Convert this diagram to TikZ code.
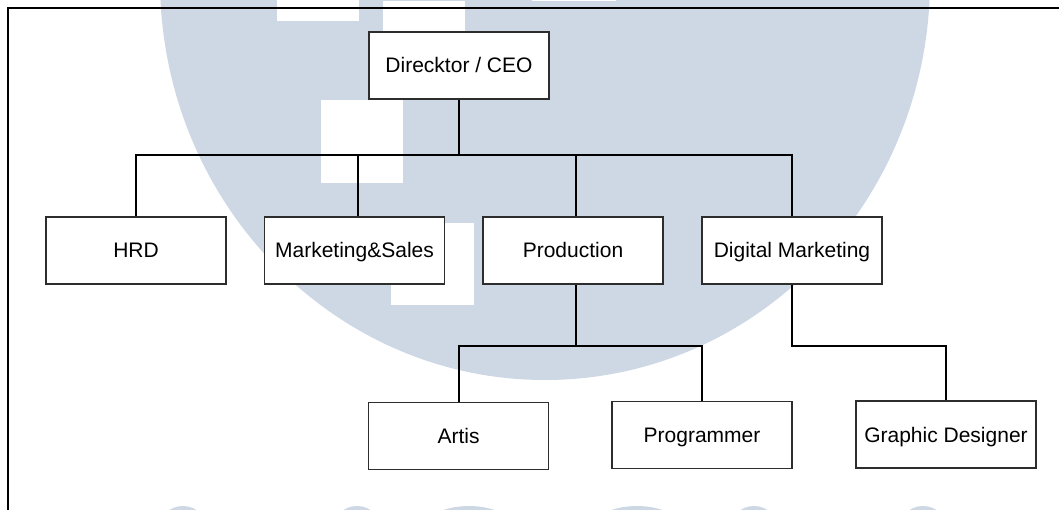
\documentclass[tikz,border=0pt]{standalone}
\usepackage{fontspec}
\setmainfont{Liberation Sans}
\definecolor{markblue}{RGB}{205,216,228}
\definecolor{boxline}{RGB}{45,45,45}
\tikzstyle{every node}=[font=\fontsize{21}{25}\selectfont]
\tikzstyle{post}=[draw=boxline, fill=white, line width=1.2pt, minimum width=180pt, minimum height=67pt, inner sep=0pt, text height=15pt, text depth=0pt]
\tikzstyle{link}=[line width=2pt, black]

\begin{document}
\begin{tikzpicture}[x=1pt, y=-1pt]
    \useasboundingbox (0,0) rectangle (1059,510);
% Watermark
    \fill[markblue] (545,-20) ellipse [x radius=385pt, y radius=400pt];
    \fill[white] (277,-61) rectangle (359,21);
    \fill[white] (383,1) rectangle (465,83);
    \fill[white] (532,-81) rectangle (616,1.5);
    \fill[white] (321,100) rectangle (403,183);
    \fill[white] (391,223) rectangle (474,305);
    \foreach \x in {183,357,754,923}
        \fill[markblue] (\x,531) circle (25pt);
    \foreach \x in {469,637}
        \fill[markblue] (\x,531) ellipse [x radius=47pt, y radius=25pt];
% Frame
    \draw[line width=1.5pt] (1059,8) -- (8,8) -- (8,510);
% Boxes
    \node[post] (ceo) at (459,65.5) {Direcktor / CEO};
    \node[post] (hrd) at (136,250.5) {HRD};
    \node[post] (sales) at (354.5,250.5) {Marketing\&Sales};
    \node[post] (prod) at (573,250.5) {Production};
    \node[post] (digi) at (792,250.5) {Digital Marketing};
    \node[post] (artis) at (458.5,436) {Artis};
    \node[post] (prog) at (702,435) {Programmer};
    \node[post] (graph) at (946,434.5) {Graphic Designer};
% Lines
    \coordinate (bus) at (0,155);
    \coordinate (subbus) at (0,345.5);
    \draw[link] (ceo.south) -- (ceo.south |- bus);
    \draw[link] (hrd.north) -- (hrd.north |- bus) -- (digi.north |- bus) -- (digi.north);
    \draw[link] ([xshift=3.5pt]sales.north) -- ([xshift=3.5pt]sales.north |- bus);
    \draw[link] ([xshift=3pt]prod.north) -- ([xshift=3pt]prod.north |- bus);
    \draw[link] ([xshift=3pt]prod.south) -- ([xshift=3pt]prod.south |- subbus);
    \draw[link] (artis.north) -- (artis.north |- subbus) -- (prog.north |- subbus) -- (prog.north);
    \draw[link] (digi.south) |- (graph.north |- subbus) -- (graph.north);
\end{tikzpicture}
\end{document}
